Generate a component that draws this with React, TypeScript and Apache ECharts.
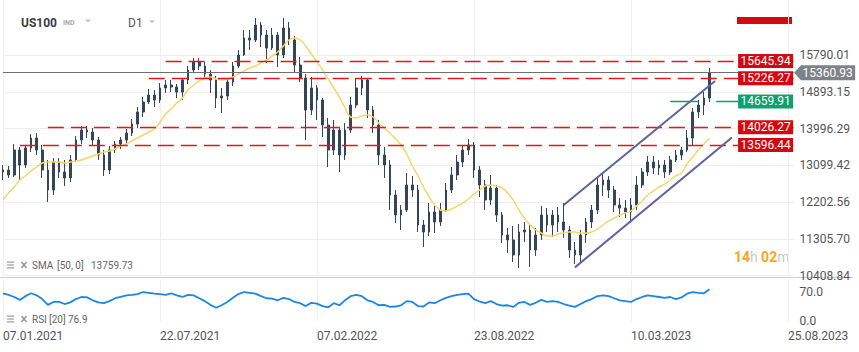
import React, { useEffect, useRef } from 'react';
import * as echarts from 'echarts';

// ---- data ----
// candles: [open, close, low, high]
const candles: number[][] = [
  [12937, 12986, 12742, 13108], [12986, 12864, 12791, 13084], [12864, 13474, 12815, 13620], [13474, 13108, 12718, 13547],
  [13108, 13523, 13035, 13596], [13523, 13767, 13425, 13864], [13767, 13474, 13352, 13889], [13474, 12986, 12791, 13596],
  [12986, 12498, 12205, 13230], [12498, 13181, 12376, 13279], [13181, 12937, 12791, 13279], [12937, 12791, 12596, 13230],
  [12791, 13230, 12693, 13352], [13230, 13718, 13181, 13816], [13718, 13962, 13620, 14060], [13962, 13913, 13767, 14060],
  [13913, 13718, 13572, 14011], [13718, 13352, 13230, 13791], [13352, 12986, 12840, 13474], [12986, 13474, 12888, 13572],
  [13474, 13620, 13401, 13694], [13620, 13718, 13498, 13791], [13718, 13889, 13645, 13986], [13889, 14108, 13816, 14230],
  [14108, 14401, 14011, 14523], [14401, 14645, 14279, 14767], [14645, 14816, 14596, 14962], [14816, 14694, 14523, 14938],
  [14694, 14987, 14621, 15109], [14987, 15060, 14865, 15182], [15060, 15011, 14889, 15182], [15011, 14889, 14743, 15084],
  [14889, 15182, 14694, 15231], [15182, 15426, 15084, 15524], [15426, 15621, 15377, 15719], [15621, 15524, 15426, 15719],
  [15524, 15328, 15231, 15621], [15328, 15182, 14865, 15426], [15182, 14743, 14499, 15280], [14743, 14792, 14377, 14987],
  [14792, 15133, 14694, 15231], [15133, 15524, 15036, 15621], [15524, 15792, 15475, 15914], [15792, 16207, 15768, 16402],
  [16207, 16158, 15914, 16402], [16158, 16524, 16109, 16695], [16524, 16280, 15987, 16597], [16280, 15963, 15597, 16402],
  [15963, 16280, 15914, 16451], [16280, 15792, 15499, 16353], [15792, 16451, 15719, 16695], [16451, 16158, 16036, 16597],
  [16158, 15548, 15353, 16256], [15548, 15231, 15133, 15743], [15231, 14450, 13718, 15328], [14450, 14987, 14328, 15255],
  [14987, 14694, 14206, 15060], [14694, 14084, 13791, 14743], [14084, 13474, 13059, 14255], [13474, 13962, 13352, 14206],
  [13962, 13352, 12937, 14011], [13352, 13962, 13230, 14133], [13962, 14572, 13889, 14767], [14572, 14987, 14499, 15231],
  [14987, 15182, 14816, 15280], [15182, 14450, 14255, 15231], [14450, 14084, 13889, 14548], [14084, 13352, 13108, 14206],
  [13352, 13108, 12791, 13547], [13108, 12376, 12010, 13230], [12376, 11888, 11693, 12498], [11888, 12010, 11522, 12132],
  [12010, 12620, 11961, 12913], [12620, 12498, 12327, 12840], [12498, 11644, 11473, 12620], [11644, 11473, 11107, 11766],
  [11473, 11961, 11376, 12181], [11961, 11717, 11449, 12108], [11717, 12010, 11620, 12181], [12010, 12498, 11961, 12669],
  [12498, 12864, 12425, 13059], [12864, 13181, 12742, 13352], [13181, 13474, 13059, 13596], [13474, 13596, 13352, 13742],
  [13596, 12986, 12791, 13669], [12986, 12620, 12327, 13084], [12620, 12254, 12010, 12742], [12254, 12547, 12132, 12864],
  [12547, 11888, 11717, 12620], [11888, 11400, 11205, 11961], [11400, 11278, 10961, 11571], [11278, 10912, 10741, 11620],
  [10912, 11473, 10595, 11668], [11473, 11522, 11229, 11717], [11522, 11034, 10619, 11644], [11034, 11400, 10888, 11571],
  [11400, 11888, 11278, 12108], [11888, 11644, 11473, 12059], [11644, 11888, 11351, 12010], [11888, 11717, 11473, 12083],
  [11717, 11522, 11327, 12181], [11522, 11034, 10839, 11620], [11034, 10912, 10692, 11229], [10912, 11400, 10741, 11522],
  [11400, 11717, 11205, 11815], [11717, 12010, 11571, 12132], [12010, 12620, 11912, 12791], [12620, 12742, 12352, 12913],
  [12742, 12498, 12303, 12840], [12498, 12132, 11961, 12596], [12132, 12059, 11839, 12303], [12059, 11961, 11815, 12254],
  [11961, 12132, 11693, 12303], [12132, 12620, 12010, 12840], [12620, 12937, 12547, 13035], [12937, 13181, 12840, 13328],
  [13181, 13035, 12888, 13328], [13035, 13108, 12864, 13230], [13108, 12937, 12791, 13230], [12937, 13230, 12864, 13328],
  [13230, 13352, 13181, 13474], [13352, 13474, 13230, 13547], [13474, 13767, 13425, 13962], [13767, 14401, 13596, 14499],
  [14401, 14572, 14255, 14694], [14572, 14743, 14328, 14889], [14743, 15360.93, 14645, 15475],
];

const sma50: number[] = [
  12254, 12425, 12571, 12742, 12840, 12962, 13059, 13157, 13181, 13181,
  13181, 13157, 13181, 13206, 13230, 13279, 13328, 13376, 13425, 13450,
  13498, 13572, 13620, 13694, 13767, 13840, 13913, 13986, 14157, 14352,
  14474, 14621, 14743, 14938, 15060, 15158, 15231, 15255, 15206, 15182,
  15206, 15255, 15328, 15402, 15475, 15524, 15597, 15670, 15768, 15865,
  16012, 16158, 16207, 16158, 16012, 15816, 15621, 15426, 15206, 14987,
  14767, 14499, 14279, 14255, 14304, 14328, 14279, 14133, 14011, 13889,
  13742, 13596, 13376, 13084, 12840, 12571, 12327, 12132, 12010, 11986,
  12034, 12108, 12181, 12278, 12400, 12498, 12596, 12620, 12596, 12547,
  12425, 12254, 12010, 11815, 11644, 11522, 11449, 11376, 11376, 11424,
  11449, 11473, 11473, 11449, 11449, 11473, 11546, 11644, 11742, 11815,
  11888, 11937, 11986, 12108, 12230, 12376, 12474, 12571, 12644, 12742,
  12840, 12913, 13132, 13303, 13474, 13620, 13759.73,
];

const rsi20: number[] = [
  67, 63, 58, 51, 60, 67, 62, 53, 39, 46,
  46, 41, 45, 53, 58, 57, 50, 45, 43, 48,
  55, 58, 62, 63, 65, 70, 68, 66, 65, 63,
  67, 62, 58, 63, 62, 55, 48, 39, 32, 38,
  46, 56, 65, 70, 68, 66, 60, 55, 54, 50,
  56, 53, 46, 43, 36, 44, 42, 36, 33, 43,
  38, 50, 60, 63, 60, 50, 46, 38, 39, 34,
  35, 38, 48, 46, 36, 35, 45, 43, 50, 56,
  60, 63, 65, 66, 53, 47, 43, 48, 41, 37,
  38, 34, 44, 46, 39, 44, 51, 46, 48, 46,
  41, 37, 34, 41, 48, 53, 60, 62, 60, 55,
  50, 48, 46, 53, 58, 62, 60, 58, 56, 58,
  53, 57, 66, 70, 68, 67, 76.9,
];

const priceTicks = [10408.84, 11305.7, 12202.56, 13099.42, 13996.29, 14893.15, 15790.01];
const rsiTicks = [0, 70];
const dateTicks = ['07.01.2021', '22.07.2021', '07.02.2022', '23.08.2022', '10.03.2023', '25.08.2023'];

const lastPrice = 15360.93;
const smaLast = 13759.73;
const rsiLast = 76.9;
const redLevels = [15645.94, 15226.27, 14026.27, 13596.44];
const redLevelStartBar = [29, 26, 8, 3];
const greenLevel = 14659.91;
const greenLevelStartBar = 119;
const channelUpper = [[100, 12132], [127, 15160]];
const channelLower = [[102, 10610], [130, 13781]];

// ---- layout constants ----
const N_BARS = 142;
const BARS_PER_TICK = 28;
const PRICE_MIN = 10399.6;
const PRICE_MAX = 17134;

const RED = '#d6080f';
const RED_LINE = '#e3161c';
const GREEN = '#11a06c';
const CANDLE = '#34455a';
const FONT = 'Roboto';

export default function App() {
  const ref = useRef<HTMLDivElement>(null);

  useEffect(() => {
    document.body.style.margin = '0';
    if (!ref.current) return;
    const chart = echarts.init(ref.current, undefined, { renderer: 'svg' });
    const categories = Array.from({ length: N_BARS }, (_, i) => String(i));
    const lastBar = N_BARS - 1;
    const isTick = (i: number) => i % BARS_PER_TICK === 0;

    const levelLines: any[] = redLevels.map((v, k) => [
      { coord: [redLevelStartBar[k], v], lineStyle: { color: RED_LINE, width: 1.4, type: [16, 7] } },
      { coord: [lastBar, v] },
    ]);
    levelLines.push([
      { coord: [greenLevelStartBar, greenLevel], lineStyle: { color: GREEN, width: 1.4, type: [28, 18] } },
      { coord: [lastBar, greenLevel] },
    ]);
    [channelUpper, channelLower].forEach((c) => {
      levelLines.push([
        { coord: c[0], lineStyle: { color: '#5f629b', width: 2, type: 'solid' } },
        { coord: c[1] },
      ]);
    });
    levelLines.push({ yAxis: lastPrice, lineStyle: { color: '#6f6f6f', width: 1, type: 'solid' } });

    const tag = (v: number, color: string) => ({
      coord: [lastBar, v],
      symbol: 'rect',
      symbolSize: [55, 14],
      symbolOffset: [-28, 0],
      itemStyle: { color },
      label: {
        show: true, position: 'inside', formatter: v.toFixed(2),
        color: '#fff', fontSize: 12, fontFamily: FONT,
      },
    });
    const tags: any[] = redLevels.map((v) => tag(v, RED));
    tags.push(tag(greenLevel, GREEN));
    tags.push({
      coord: [lastBar, lastPrice],
      symbol: 'path://M0,7L7,0H62V14H7Z',
      symbolSize: [61, 15],
      symbolOffset: [31, 0],
      itemStyle: { color: '#7d8389' },
      label: {
        show: true, position: 'inside', formatter: lastPrice.toFixed(2), offset: [3, 0],
        color: '#fff', fontSize: 12, fontFamily: FONT,
      },
    });

    const iconGroup = (y: number) => [
      { type: 'rect', shape: { x: 7, y: y - 3.5, width: 7, height: 1.2 }, style: { fill: '#9a9a9a' } },
      { type: 'rect', shape: { x: 7, y: y - 0.6, width: 7, height: 1.2 }, style: { fill: '#9a9a9a' } },
      { type: 'rect', shape: { x: 7, y: y + 2.3, width: 7, height: 1.2 }, style: { fill: '#9a9a9a' } },
      { type: 'line', shape: { x1: 21.5, y1: y - 3, x2: 26.5, y2: y + 3 }, style: { stroke: '#9a9a9a', lineWidth: 1.6 } },
      { type: 'line', shape: { x1: 26.5, y1: y - 3, x2: 21.5, y2: y + 3 }, style: { stroke: '#9a9a9a', lineWidth: 1.6 } },
    ];
    const small = (x: number, y: number, text: string) => ({
      type: 'text', x, y,
      style: { text, fontFamily: FONT, fontSize: 10, fill: '#666', verticalAlign: 'middle' },
    });

    const option: any = {
      animation: false,
      textStyle: { fontFamily: FONT },
      grid: [
        { left: 3, right: 65.4, top: 0, height: 276 },
        { left: 3, right: 65.4, top: 279.6, height: 41.4 },
      ],
      xAxis: [
        {
          type: 'category', gridIndex: 0, data: categories, boundaryGap: false,
          axisLine: { show: false }, axisTick: { show: false }, axisLabel: { show: false },
          splitLine: { show: true, interval: (i: number) => isTick(i), lineStyle: { color: '#efefef' } },
        },
        {
          type: 'category', gridIndex: 1, data: categories, boundaryGap: false,
          axisLine: { show: false }, axisTick: { show: false },
          axisLabel: {
            show: true, interval: (i: number) => isTick(i),
            formatter: (v: string) => dateTicks[Number(v) / BARS_PER_TICK] ?? '',
            align: 'left', margin: 9, color: '#555', fontSize: 12, fontFamily: FONT,
          },
          splitLine: { show: true, interval: (i: number) => isTick(i), lineStyle: { color: '#efefef' } },
        },
      ],
      yAxis: [
        {
          type: 'value', gridIndex: 0, position: 'right', min: PRICE_MIN, max: PRICE_MAX,
          axisLine: { show: false }, axisTick: { show: false, customValues: priceTicks },
          axisLabel: {
            customValues: priceTicks, formatter: (v: number) => v.toFixed(2),
            color: '#555', fontSize: 12, margin: 6, fontFamily: FONT,
          },
          splitLine: { show: true, lineStyle: { color: '#eeeeee' } },
        },
        {
          type: 'value', gridIndex: 1, position: 'right', min: 0, max: 100,
          axisLine: { show: false }, axisTick: { show: false, customValues: rsiTicks },
          axisLabel: {
            customValues: rsiTicks, formatter: (v: number) => v.toFixed(1),
            color: '#555', fontSize: 12, margin: 6, fontFamily: FONT,
          },
          splitLine: { show: false },
        },
      ],
      series: [
        {
          type: 'candlestick', xAxisIndex: 0, yAxisIndex: 0, data: candles, barWidth: 2.2,
          itemStyle: { color: CANDLE, color0: CANDLE, borderColor: CANDLE, borderColor0: CANDLE, borderWidth: 1 },
          markLine: { silent: true, symbol: ['none', 'none'], label: { show: false }, data: levelLines },
          markPoint: { silent: true, data: tags },
        },
        {
          type: 'line', xAxisIndex: 0, yAxisIndex: 0, data: sma50, showSymbol: false, smooth: 0.4,
          lineStyle: { color: '#f5d66a', width: 1.5 }, itemStyle: { color: '#f5d66a' }, z: 3,
        },
        {
          type: 'line', xAxisIndex: 1, yAxisIndex: 1, data: rsi20, showSymbol: false,
          lineStyle: { color: '#1b86e8', width: 1.8 }, itemStyle: { color: '#1b86e8' },
        },
      ],
      graphic: [
        { type: 'rect', shape: { x: 737, y: 17, width: 55, height: 7 }, style: { fill: RED } },
        { type: 'line', shape: { x1: 0, y1: 277.5, x2: 853, y2: 277.5 }, style: { stroke: '#cfcfcf', lineWidth: 1 } },
        { type: 'text', x: 21, y: 23, style: { text: 'US100', fontFamily: FONT, fontSize: 12, fontWeight: 'bold', fill: '#3c3c3c', verticalAlign: 'middle' } },
        { type: 'text', x: 63, y: 23, style: { text: 'IND', fontFamily: FONT, fontSize: 7, fontWeight: 'bold', fill: '#a8a8a8', verticalAlign: 'middle' } },
        { type: 'polygon', shape: { points: [[85, 19.5], [91, 19.5], [88, 22]] }, style: { fill: '#b8b8b8' } },
        { type: 'text', x: 128, y: 23, style: { text: 'D1', fontFamily: FONT, fontSize: 12, fill: '#555', verticalAlign: 'middle' } },
        { type: 'polygon', shape: { points: [[149, 20.5], [155, 20.5], [152, 23]] }, style: { fill: '#b8b8b8' } },
        ...iconGroup(265),
        small(32, 265, 'SMA'),
        small(57, 265, '[50, 0]'),
        small(91, 265, smaLast.toFixed(2)),
        ...iconGroup(319),
        small(32, 319, 'RSI'),
        small(49, 319, '[20]'),
        small(68, 319, rsiLast.toFixed(1)),
        {
          type: 'text', x: 734, y: 257,
          style: {
            text: '{o|14}{g|h} {o|02}{g|m}', verticalAlign: 'middle',
            rich: {
              o: { fontFamily: FONT, fontSize: 14, fontWeight: 'bold', fill: '#f6a623', color: '#f6a623' },
              g: { fontFamily: FONT, fontSize: 14, fill: '#c9c9c9', color: '#c9c9c9' },
            },
          },
        },
      ],
    };

    chart.setOption(option);
    return () => chart.dispose();
  }, []);

  return <div ref={ref} style={{ width: 859, height: 352 }} />;
}
